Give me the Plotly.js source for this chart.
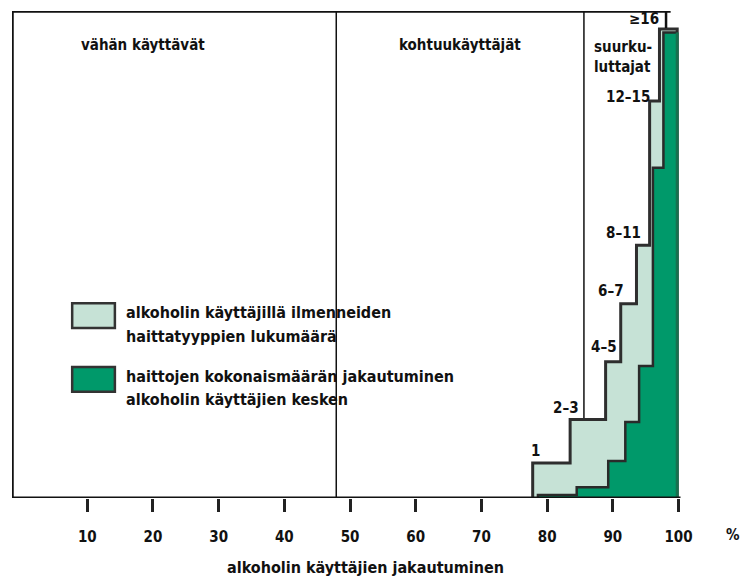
<!DOCTYPE html>
<html>
<head>
<meta charset="utf-8">
<script src="https://cdn.plot.ly/plotly-3.0.1.min.js"></script>
<style>html,body{margin:0;padding:0;background:#fff;}#chart{width:744px;height:578px;}</style>
</head>
<body>
<div id="chart"></div>
<script>
// ---- data ----
var categories = ['1', '2–3', '4–5', '6–7', '8–11', '12–15', '≥16'];
// x: cumulative share of alcohol users (%), step edges
var lightEdges = [77.8, 83.5, 88.9, 91.2, 93.6, 95.6, 97.1, 99.8];
// number of harm types (relative height, 0–100 of chart height)
var lightHeights = [7.2, 16.1, 28.0, 39.9, 51.9, 81.5, 96.3];
// distribution of total harms among users
var darkEdges = [78.6, 84.5, 89.3, 91.9, 94.0, 96.1, 97.7, 99.8];
var darkHeights = [0.6, 2.2, 7.6, 15.6, 27.1, 67.8, 95.6];
var tickVals = [10, 20, 30, 40, 50, 60, 70, 80, 90, 100];
var tickText = ['10', '20', '30', '40', '50', '60', '70', '80', '90', '100'];
var groupNames = ['vähän käyttävät', 'kohtuukäyttäjät', 'suurku-<br>luttajat'];
var groupBounds = [47.9, 85.6];
var legendLight = ['alkoholin käyttäjillä ilmenneiden', 'haittatyyppien lukumäärä'];
var legendDark = ['haittojen kokonaismäärän jakautuminen', 'alkoholin käyttäjien kesken'];
var xTitle = 'alkoholin käyttäjien jakautuminen';

// ---- build step polygons ----
function stepPoly(edges, heights) {
  var x = [edges[0]], y = [0];
  for (var i = 0; i < heights.length; i++) { x.push(edges[i]); y.push(heights[i]); }
  x.push(edges[edges.length - 1]); y.push(heights[heights.length - 1]);
  x.push(edges[edges.length - 1]); y.push(0);
  return {x: x, y: y};
}
var lp = stepPoly(lightEdges, lightHeights);
var dp = stepPoly(darkEdges, darkHeights);
var n = dp.x.length;

var FONT = 'DejaVu Sans Condensed, DejaVu Sans, sans-serif';
var LIGHT = '#c6e2d6', DARK = '#00996a';

var traces = [
  {x: lp.x, y: lp.y, mode: 'lines', line: {shape: 'hv', color: '#2e2e2e', width: 3},
   fill: 'toself', fillcolor: LIGHT, hoverinfo: 'skip', showlegend: false},
  {x: dp.x, y: dp.y, mode: 'lines', line: {shape: 'hv', color: DARK, width: 0.5},
   fill: 'toself', fillcolor: DARK, hoverinfo: 'skip', showlegend: false},
  // outline of the dark steps (left and top edges)
  {x: dp.x.slice(0, n - 1), y: dp.y.slice(0, n - 1), mode: 'lines',
   line: {shape: 'hv', color: '#2a2a2a', width: 2.5}, hoverinfo: 'skip', showlegend: false},
  // darker right edge of the dark area
  {x: dp.x.slice(n - 2), y: dp.y.slice(n - 2), mode: 'lines',
   line: {color: '#17704f', width: 3}, hoverinfo: 'skip', showlegend: false}
];

var XMIN = -1.46, XMAX = 105.4;

// label offsets (px) relative to each light step's top-left corner
var labelShift = [[3, 12], [-4, 12], [-2, 15], [-10, 13], [-13, 12], [-22, 4], [-15, 10]];
var annotations = [];
categories.forEach(function (c, i) {
  annotations.push({x: lightEdges[i], y: lightHeights[i], xref: 'x', yref: 'y', text: c,
    showarrow: false, xanchor: 'center', yanchor: 'middle',
    xshift: labelShift[i][0], yshift: labelShift[i][1],
    font: {family: FONT, size: 15, color: '#111', weight: 'bold'}});
});
// group names
annotations.push({x: 18.5, y: 93.0, xref: 'x', yref: 'y', text: groupNames[0], showarrow: false,
  xanchor: 'center', yanchor: 'middle', font: {family: FONT, size: 15, color: '#111', weight: 'bold'}});
annotations.push({x: 66.8, y: 93.0, xref: 'x', yref: 'y', text: groupNames[1], showarrow: false,
  xanchor: 'center', yanchor: 'middle', font: {family: FONT, size: 15, color: '#111', weight: 'bold'}});
annotations.push({x: 86.8, y: 90.6, xref: 'x', yref: 'y', text: groupNames[2], showarrow: false,
  xanchor: 'left', yanchor: 'middle', align: 'left',
  font: {family: FONT, size: 15, color: '#111', weight: 'bold'}});
// legend texts
var legY = [[38.0, 33.1], [24.9, 20.2]];
[legendLight, legendDark].forEach(function (lines, k) {
  lines.forEach(function (t, j) {
    annotations.push({x: 15.6, y: legY[k][j], xref: 'x', yref: 'y', text: t, showarrow: false,
      xanchor: 'left', yanchor: 'middle',
      font: {family: FONT, size: 16, color: '#111', weight: 'bold'}});
  });
});
// axis title and unit
annotations.push({x: 52.4, y: -0.142, xref: 'x', yref: 'paper', text: xTitle, showarrow: false,
  xanchor: 'center', yanchor: 'middle', font: {family: FONT, size: 16, color: '#111', weight: 'bold'}});
annotations.push({x: 1.027, y: -0.076, xref: 'paper', yref: 'paper', text: '%', showarrow: false,
  xanchor: 'center', yanchor: 'middle', font: {family: FONT, size: 15, color: '#111', weight: 'bold'}});

var shapes = [
  // frame: left, top
  {type: 'line', xref: 'x', yref: 'y', x0: XMIN, x1: XMIN, y0: 0, y1: 100, line: {color: '#111', width: 3.5}},
  {type: 'line', xref: 'x', yref: 'y', x0: XMIN, x1: 98.8, y0: 100, y1: 100, line: {color: '#111', width: 3.5}},
  // group separators
  {type: 'line', xref: 'x', yref: 'y', x0: groupBounds[0], x1: groupBounds[0], y0: 0, y1: 100, line: {color: '#111', width: 1.5}, layer: 'below'},
  {type: 'line', xref: 'x', yref: 'y', x0: groupBounds[1], x1: groupBounds[1], y0: 0, y1: 100, line: {color: '#111', width: 1.5}, layer: 'below'},
  // ≥16 marker
  {type: 'line', xref: 'x', yref: 'y', x0: 98.1, x1: 98.1, y0: 100, y1: 96.5, line: {color: '#111', width: 2.5}},
  // legend boxes
  {type: 'rect', xref: 'x', yref: 'y', x0: 7.7, x1: 14.2, y0: 34.9, y1: 40.0, fillcolor: LIGHT, line: {color: '#333', width: 2.5}},
  {type: 'rect', xref: 'x', yref: 'y', x0: 7.7, x1: 14.2, y0: 21.8, y1: 26.9, fillcolor: DARK, line: {color: '#333', width: 2.5}},
  // bottom axis line
  {type: 'line', xref: 'x', yref: 'y', x0: XMIN, x1: 100.3, y0: 0, y1: 0, line: {color: '#111', width: 3}}
];

var layout = {
  width: 744, height: 578,
  margin: {l: 12, r: 30, t: 11, b: 80, pad: 0},
  paper_bgcolor: '#fff', plot_bgcolor: '#fff',
  showlegend: false,
  xaxis: {range: [XMIN, XMAX], showgrid: false, zeroline: false, showline: false,
    tickmode: 'array', tickvals: tickVals, ticktext: tickText,
    ticks: 'outside', ticklen: 13, tickwidth: 3, tickcolor: '#222',
    ticklabelstandoff: 12,
    tickfont: {family: FONT, size: 15, color: '#111', weight: 'bold'}, fixedrange: true},
  yaxis: {range: [0, 100], showgrid: false, zeroline: false, showline: false,
    showticklabels: false, ticks: '', fixedrange: true},
  shapes: shapes,
  annotations: annotations
};

Plotly.newPlot('chart', traces, layout, {staticPlot: true, displayModeBar: false});
</script>
</body>
</html>
